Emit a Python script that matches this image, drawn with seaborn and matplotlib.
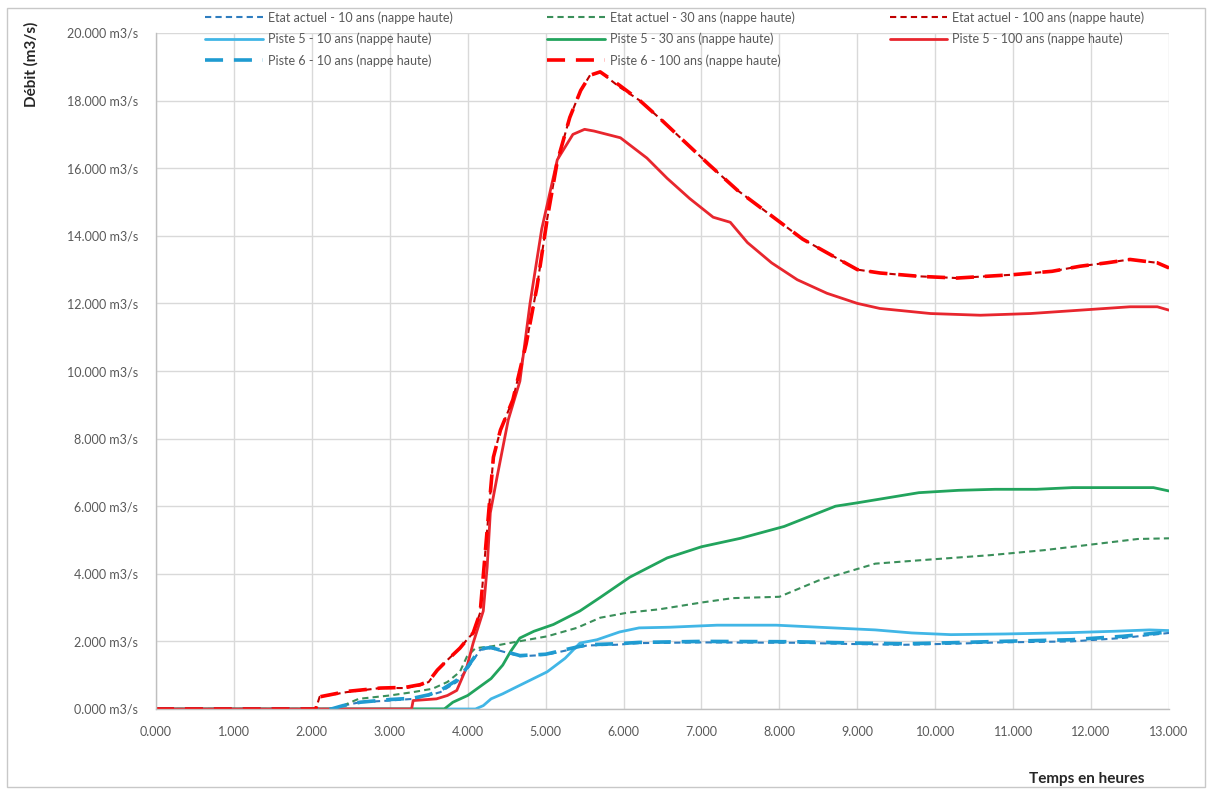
import matplotlib
matplotlib.use("Agg")
import numpy as np
import pandas as pd
import seaborn as sns
import matplotlib.pyplot as plt
from matplotlib.patches import Rectangle
from matplotlib.ticker import FuncFormatter

# ---- Hydrographs (time in hours, discharge in m3/s) ----
t_e10 = [0, 2.25, 2.4, 2.62, 3.0, 3.3, 3.5, 3.65, 3.86, 4.0, 4.16, 4.3, 4.45, 4.67, 5.0, 5.3, 5.53,
         5.9, 6.2, 7.0, 8.2, 9.0, 9.6, 10.2, 10.83, 11.75, 12.4, 13.0]
q_e10 = [0, 0, 0.1, 0.2, 0.25, 0.3, 0.4, 0.5, 0.8, 1.2, 1.75, 1.8, 1.7, 1.56, 1.6, 1.75, 1.88,
         1.9, 1.95, 1.97, 1.96, 1.92, 1.9, 1.93, 1.97, 2.0, 2.1, 2.25]

t_e30 = [0, 2.3, 2.6, 3.0, 3.3, 3.55, 3.74, 3.9, 3.99, 4.1, 4.3, 4.58, 5.02, 5.4, 5.7, 6.05, 6.46,
         7.0, 7.4, 8.0, 8.5, 9.23, 9.8, 10.7, 11.4, 12.2, 12.6, 13.0]
q_e30 = [0, 0, 0.3, 0.4, 0.5, 0.6, 0.8, 1.1, 1.55, 1.8, 1.85, 1.97, 2.15, 2.4, 2.7, 2.85, 2.95,
         3.15, 3.28, 3.32, 3.8, 4.3, 4.4, 4.55, 4.7, 4.92, 5.03, 5.05]

t_e100 = [0, 2.05, 2.1, 2.45, 2.88, 3.2, 3.39, 3.5, 3.61, 3.74, 3.9, 3.99, 4.07, 4.16, 4.25, 4.33,
          4.42, 4.58, 4.75, 4.89, 5.02, 5.15, 5.31, 5.45, 5.57, 5.7, 5.95, 6.21, 6.5, 6.73, 7.1,
          7.46, 8.01, 8.3, 8.61, 9.0, 9.29, 9.8, 10.28, 11.0, 11.5, 11.86, 12.2, 12.5, 12.85, 13.0]
q_e100 = [0, 0, 0.36, 0.5, 0.62, 0.62, 0.7, 0.8, 1.15, 1.45, 1.8, 2.05, 2.25, 2.85, 5.3, 7.45,
          8.25, 9.15, 10.8, 12.5, 14.5, 16.2, 17.5, 18.3, 18.75, 18.85, 18.4, 18.0, 17.4, 16.9,
          16.1, 15.35, 14.4, 13.9, 13.5, 13.0, 12.9, 12.8, 12.75, 12.85, 12.95, 13.1, 13.2, 13.3,
          13.2, 13.05]

t_p5_10 = [0, 4.1, 4.2, 4.3, 4.45, 4.58, 4.8, 5.02, 5.25, 5.44, 5.66, 5.95, 6.2, 6.6, 7.2, 7.96,
           8.5, 9.23, 9.7, 10.2, 10.9, 11.75, 12.3, 12.75, 13.0]
q_p5_10 = [0, 0, 0.1, 0.3, 0.45, 0.6, 0.85, 1.1, 1.5, 1.95, 2.05, 2.28, 2.4, 2.42, 2.48, 2.48,
           2.42, 2.34, 2.25, 2.2, 2.22, 2.26, 2.3, 2.34, 2.32]

t_p5_30 = [0, 3.7, 3.81, 4.0, 4.12, 4.3, 4.45, 4.55, 4.67, 4.85, 5.1, 5.44, 5.7, 6.08, 6.56, 7.0,
           7.5, 8.06, 8.72, 9.0, 9.79, 10.3, 10.77, 11.3, 11.76, 12.3, 12.8, 13.0]
q_p5_30 = [0, 0, 0.2, 0.4, 0.6, 0.9, 1.3, 1.7, 2.1, 2.3, 2.5, 2.9, 3.3, 3.9, 4.47, 4.8,
           5.05, 5.4, 6.0, 6.1, 6.4, 6.47, 6.5, 6.5, 6.55, 6.55, 6.55, 6.45]

t_p5_100 = [0, 3.28, 3.3, 3.6, 3.74, 3.86, 3.99, 4.07, 4.2, 4.25, 4.29, 4.38, 4.52, 4.67, 4.8,
            4.95, 5.15, 5.35, 5.5, 5.62, 5.96, 6.3, 6.56, 6.85, 7.15, 7.37, 7.59, 7.9, 8.23,
            8.61, 9.0, 9.29, 9.94, 10.58, 11.22, 11.86, 12.5, 12.85, 13.0]
q_p5_100 = [0, 0, 0.25, 0.3, 0.4, 0.55, 1.25, 1.95, 2.9, 4.2, 5.8, 6.9, 8.55, 9.7, 12.0, 14.2,
            16.25, 17.0, 17.15, 17.1, 16.9, 16.3, 15.7, 15.1, 14.55, 14.4, 13.8, 13.2, 12.7,
            12.3, 12.0, 11.85, 11.7, 11.65, 11.7, 11.8, 11.9, 11.9, 11.8]

t_p6_10 = t_e10
q_p6_10 = [0, 0, 0.1, 0.2, 0.28, 0.32, 0.42, 0.55, 0.85, 1.25, 1.78, 1.82, 1.72, 1.58, 1.62, 1.78,
           1.9, 1.93, 1.97, 2.0, 1.99, 1.95, 1.93, 1.96, 2.0, 2.05, 2.15, 2.28]

t_p6_100 = t_e100
q_p6_100 = [0, 0, 0.36, 0.52, 0.62, 0.64, 0.72, 0.82, 1.15, 1.45, 1.8, 2.05, 2.25, 2.85, 5.3,
            7.45, 8.25, 9.15, 10.8, 12.5, 14.5, 16.2, 17.5, 18.3, 18.75, 18.85, 18.45, 18.0,
            17.4, 16.9, 16.1, 15.35, 14.4, 13.9, 13.5, 13.0, 12.9, 12.8, 12.75, 12.85, 12.95,
            13.1, 13.2, 13.3, 13.2, 13.05]

x_ticks = list(range(0, 14))
y_ticks = list(range(0, 21, 2))

series = [
    # label, t, q, color, linewidth, linestyle
    ("Etat actuel - 10 ans (nappe haute)", t_e10, q_e10, "#2E7DBF", 1.5, (0, (3, 2))),
    ("Etat actuel - 30 ans (nappe haute)", t_e30, q_e30, "#3A8F5A", 1.5, (0, (3, 2))),
    ("Etat actuel - 100 ans (nappe haute)", t_e100, q_e100, "#C00000", 1.5, (0, (3, 2))),
    ("Piste 5 - 10 ans (nappe haute)", t_p5_10, q_p5_10, "#41B6E6", 2.0, "-"),
    ("Piste 5 - 30 ans (nappe haute)", t_p5_30, q_p5_30, "#22A45D", 2.0, "-"),
    ("Piste 5 - 100 ans (nappe haute)", t_p5_100, q_p5_100, "#E8262E", 2.0, "-"),
    ("Piste 6 - 10 ans (nappe haute)", t_p6_10, q_p6_10, "#1F9BD1", 2.6, (0, (5, 3))),
    ("Piste 6 - 100 ans (nappe haute)", t_p6_100, q_p6_100, "#FF0000", 2.6, (0, (5, 3))),
]

sns.set_theme(style="white")
plt.rcParams["font.family"] = ["Lato", "DejaVu Sans"]

W, H = 1214, 791
fig = plt.figure(figsize=(W / 100, H / 100), dpi=100)
fig.patch.set_facecolor("white")
ax = fig.add_axes([156 / W, 1 - 709 / H, (1169 - 156) / W, (709 - 33) / H])

handles = {}
for label, t, q, color, lw, ls in series:
    df = pd.DataFrame({"t": t, "q": q})
    sns.lineplot(data=df, x="t", y="q", ax=ax, color=color, linewidth=lw, linestyle=ls,
                 estimator=None, sort=False, label=label, legend=False)
    handles[label] = ax.lines[-1]

ax.set_xlim(0, 13)
ax.set_ylim(0, 20)
ax.set_xticks(x_ticks)
ax.set_yticks(y_ticks)
ax.xaxis.set_major_formatter(FuncFormatter(lambda v, p: f"{v:.3f}"))
ax.yaxis.set_major_formatter(FuncFormatter(lambda v, p: f"{v:.3f} m3/s"))
ax.tick_params(axis="both", length=0, labelsize=9, colors="#595959")
ax.tick_params(axis="y", pad=13)
ax.tick_params(axis="x", pad=12)
ax.grid(True, color="#D9D9D9", linewidth=1)
ax.set_axisbelow(True)
for side in ("top", "right"):
    ax.spines[side].set_visible(False)
for side in ("left", "bottom"):
    ax.spines[side].set_color("#BFBFBF")
    ax.spines[side].set_linewidth(1)
ax.set_xlabel("")
ax.set_ylabel("")

fig.text(31 / W, 1 - 22 / H, "Débit (m3/s)", rotation=90, ha="center", va="top",
         fontsize=11, fontweight="bold", color="#262626")
fig.text(1087 / W, 1 - 779 / H, "Temps en heures", ha="center", va="center",
         fontsize=11, fontweight="bold", color="#262626")

order = [
    "Etat actuel - 10 ans (nappe haute)", "Piste 5 - 10 ans (nappe haute)",
    "Piste 6 - 10 ans (nappe haute)",
    "Etat actuel - 30 ans (nappe haute)", "Piste 5 - 30 ans (nappe haute)",
    "Piste 6 - 100 ans (nappe haute)",
    "Etat actuel - 100 ans (nappe haute)", "Piste 5 - 100 ans (nappe haute)",
]
leg = fig.legend([handles[k] for k in order], order, ncol=3, loc="upper left",
                 bbox_to_anchor=(205 / W, 1 - 11 / H), frameon=False, fontsize=9,
                 handlelength=4.6, handletextpad=0.4, columnspacing=7.6,
                 labelspacing=0.72, borderpad=0, borderaxespad=0)
for txt in leg.get_texts():
    txt.set_color("#595959")

fig.patches.append(Rectangle((7 / W, 1 - 787 / H), 1198 / W, 779 / H,
                             transform=fig.transFigure, fill=False,
                             edgecolor="#C8C8C8", linewidth=1))

fig.savefig("out.png", dpi=100, facecolor="white")
